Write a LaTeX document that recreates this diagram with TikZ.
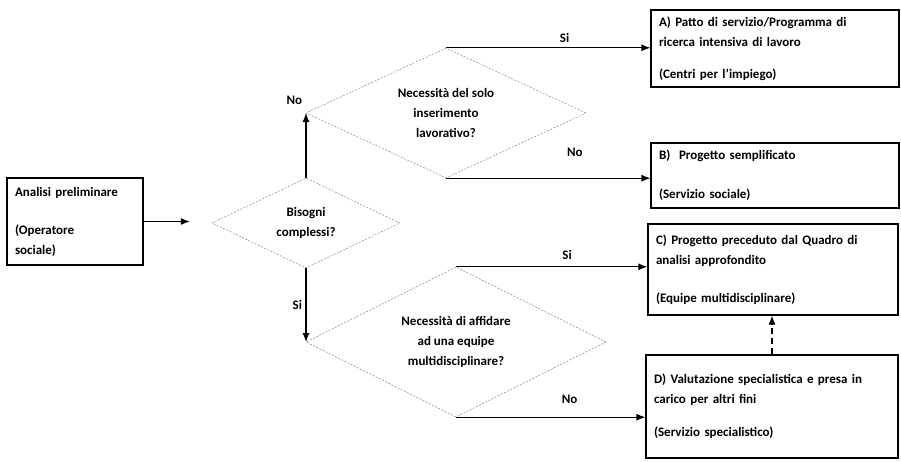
\documentclass[tikz,border=0pt]{standalone}
\usepackage{fontspec}
\setmainfont{Carlito}
\usetikzlibrary{shapes.geometric}
\usetikzlibrary{arrows.meta}
\usetikzlibrary{positioning}

\newcommand{\boxfont}{\fontsize{13}{20}\selectfont\bfseries}

\begin{document}
\begin{tikzpicture}[x=1pt,y=-1pt,>={Latex[length=9pt,width=7pt]},
    box/.style={draw,line width=1.1pt,align=left,inner xsep=8pt,inner ysep=0pt,font=\boxfont},
    dec/.style={diamond,draw=black!55,dash pattern=on 2pt off 1.5pt,thin,align=center,aspect=2,inner sep=0pt,font=\boxfont},
    lbl/.style={font=\boxfont},
    link/.style={->,line width=1.2pt}]

    \useasboundingbox (0,0) rectangle (901,461);

    \node[box,minimum width=136pt,minimum height=87pt,text width=120pt] (prelim) at (75,221.5) {Analisi preliminare\\[18pt](Operatore\\sociale)};

    \node[dec,minimum width=188pt,minimum height=90pt] (bisogni) at (306,223) {Bisogni\\complessi?};
    \node[dec,minimum width=280pt,minimum height=130pt] (solo) at (446,113) {Necessità del solo\\inserimento\\lavorativo?};
    \node[dec,minimum width=300pt,minimum height=150pt] (equipe) at (456,342) {Necessità di affidare\\ad una equipe\\multidisciplinare?};

    \node[box,minimum width=248pt,minimum height=77pt,text width=232pt] (pattoA) at (775,48.5) {A) Patto di servizio/Programma di\\ricerca intensiva di lavoro\\[12pt](Centri per l'impiego)};
    \node[box,minimum width=248pt,minimum height=65pt,text width=232pt] (semplB) at (775,175.5) {B)~~Progetto semplificato\\[19pt](Servizio sociale)};
    \node[box,minimum width=250pt,minimum height=91pt,text width=234pt] (quadroC) at (773,269.5) {C) Progetto preceduto dal Quadro di\\analisi approfondito\\[18pt](Equipe multidisciplinare)};
    \node[box,minimum width=252pt,minimum height=103pt,text width=236pt] (specD) at (772,406.5) {D) Valutazione specialistica e presa in\\carico per altri fini\\[13pt](Servizio specialistico)};

    \draw[link,shorten >=22pt] (prelim.east) -- (prelim.east -| bisogni.west);
    \draw[link] (bisogni.north) -- (bisogni.north |- solo.west) node[lbl,above left,yshift=4pt] (noSolo) {No};
    \draw[link] (solo.north) -- (solo.north -| pattoA.west) node[lbl,pos=0.58,above=1pt] (siA) {Si};
    \draw[link] (solo.south) -- (solo.south -| semplB.west) node[lbl,pos=0.63,above=18pt] (noB) {No};
    \draw[link] (bisogni.south) -- (bisogni.south |- equipe.west) node[lbl,midway,left] (siEq) {Si};
    \draw[link] (equipe.north) -- (equipe.north -| quadroC.west) node[lbl,pos=0.58,above=3pt] (siC) {Si};
    \draw[link] (equipe.south) -- (equipe.south -| specD.west) node[lbl,pos=0.6,above=10pt] (noD) {No};
    \draw[link,dash pattern=on 6pt off 4pt] (specD.north) -- (specD.north |- quadroC.south);

\end{tikzpicture}
\end{document}
